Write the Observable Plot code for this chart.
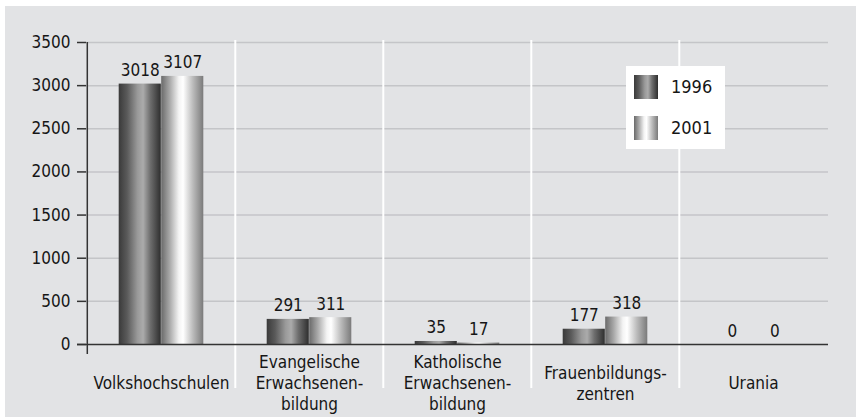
<!DOCTYPE html>
<html>
<head>
<meta charset="utf-8">
<script src="https://cdn.jsdelivr.net/npm/d3@7"></script>
<script src="https://cdn.jsdelivr.net/npm/@observablehq/plot@0.6"></script>
<style>
  html, body { margin: 0; padding: 0; background: #ffffff; }
  #wrap { position: relative; width: 856px; height: 417px; overflow: hidden; }
  #panel { position: absolute; left: 5px; top: 6px; right: 0; bottom: 0; background: #e2e3e5; }
  #chart { position: absolute; left: 0; top: 0; }
  #legend { position: absolute; left: 626px; top: 66px; width: 99px; height: 83px; background: #ffffff;
            font-family: "DejaVu Sans Condensed", "Liberation Sans Narrow", sans-serif; font-size: 18px; color: #161616; }
  .item { position: absolute; left: 8px; height: 24px; }
  .sw { position: absolute; left: 0; top: 0; width: 24px; height: 24px; }
  .lab { position: absolute; left: 37px; top: 1px; line-height: 22px; }
</style>
</head>
<body>
<div id="wrap">
  <div id="panel"></div>
  <div id="chart"></div>
  <div id="legend"></div>
</div>
<script>
const categories = ["Volkshochschulen", "Evangelische Erwachsenenbildung", "Katholische Erwachsenenbildung", "Frauenbildungszentren", "Urania"];
const categoryLabels = ["Volkshochschulen", "Evangelische\nErwachsenen-\nbildung", "Katholische\nErwachsenen-\nbildung", "Frauenbildungs-\nzentren", "Urania"];
const series = ["1996", "2001"];
const values1996 = [3018, 291, 35, 177, 0];
const values2001 = [3107, 311, 17, 318, 0];
const yTicks = [0, 500, 1000, 1500, 2000, 2500, 3000, 3500];

const data1996 = categories.map((c, i) => ({category: c, value: values1996[i]}));
const data2001 = categories.map((c, i) => ({category: c, value: values2001[i]}));
const labelData = categories.map((c, i) => ({category: c, label: categoryLabels[i]}));

const font = `"DejaVu Sans Condensed", "Liberation Sans Narrow", sans-serif`;
const W = 856, H = 417;
const mL = 86, mR = 28, mT = 42, mB = 73;
const band = (W - mL - mR) / categories.length;
const half = band / 2;
const barW = 42.5;
const fs = 17;

const grad1996 = "url(#g1996)";
const grad2001 = "url(#g2001)";

const chart = Plot.plot({
  width: W,
  height: H,
  marginLeft: mL,
  marginRight: mR,
  marginTop: mT,
  marginBottom: mB,
  style: {background: "transparent", fontFamily: font, fontSize: fs + "px", color: "#161616", overflow: "visible"},
  x: {domain: categories, padding: 0, axis: null},
  y: {domain: [0, 3500], ticks: yTicks, axis: null},
  marks: [
    Plot.gridY(yTicks.filter(t => t > 0), {stroke: "#c4c5c8", strokeOpacity: 1, strokeWidth: 1.5}),
    Plot.ruleX(categories.slice(1), {x: d => d, dx: -half, stroke: "#ffffff", strokeWidth: 2, insetTop: -2, insetBottom: -44}),
    Plot.barY(data1996, {x: "category", y: "value", fill: grad1996, insetLeft: half - barW, insetRight: half}),
    Plot.barY(data2001, {x: "category", y: "value", fill: grad2001, insetLeft: half, insetRight: half - barW}),
    Plot.text(data1996, {x: "category", y: "value", text: d => String(d.value), dx: -barW / 2, dy: -8, lineAnchor: "bottom", fill: "#161616", fontSize: fs}),
    Plot.text(data2001, {x: "category", y: "value", text: d => String(d.value), dx: barW / 2, dy: -8, lineAnchor: "bottom", fill: "#161616", fontSize: fs}),
    Plot.ruleY([0], {stroke: "#333333", strokeWidth: 1.5, insetLeft: -9}),
    Plot.ruleX([0], {x: () => categories[0], dx: -half, stroke: "#333333", strokeWidth: 1.5, insetBottom: -10}),
    Plot.axisY({ticks: yTicks, tickSize: 9, tickPadding: 7, stroke: "#333333", strokeWidth: 1.5, fill: "#161616", fontSize: fs, label: null, tickFormat: d => String(d)}),
    Plot.text(labelData, {x: "category", text: "label", frameAnchor: "bottom", dy: 38, lineAnchor: "middle", lineHeight: 1.22, fill: "#161616", fontSize: fs})
  ]
});

// gradient definitions
const defs = d3.select(chart).insert("defs", ":first-child");
function addGrad(id, stops) {
  const g = defs.append("linearGradient").attr("id", id).attr("x1", "0%").attr("x2", "100%").attr("y1", "0%").attr("y2", "0%");
  stops.forEach(([o, c]) => g.append("stop").attr("offset", o).attr("stop-color", c));
}
const stops1996 = [["0%", "#3a3a3a"], ["20%", "#5a5a5a"], ["45%", "#9a9a9a"], ["58%", "#ababab"], ["75%", "#6e6e6e"], ["100%", "#2e2e2e"]];
const stops2001 = [["0%", "#6a6a6a"], ["20%", "#a8a8a8"], ["42%", "#f4f4f4"], ["52%", "#ffffff"], ["75%", "#bcbcbc"], ["100%", "#7a7a7a"]];
addGrad("g1996", stops1996);
addGrad("g2001", stops2001);

document.getElementById("chart").appendChild(chart);

// legend
const css = stops => "linear-gradient(to right, " + stops.map(([o, c]) => c + " " + o).join(", ") + ")";
const legend = document.getElementById("legend");
[[series[0], stops1996, 9], [series[1], stops2001, 50]].forEach(([name, stops, top]) => {
  const item = document.createElement("div");
  item.className = "item";
  item.style.top = top + "px";
  const sw = document.createElement("div");
  sw.className = "sw";
  sw.style.background = css(stops);
  const lab = document.createElement("div");
  lab.className = "lab";
  lab.textContent = name;
  item.appendChild(sw);
  item.appendChild(lab);
  legend.appendChild(item);
});
</script>
</body>
</html>
